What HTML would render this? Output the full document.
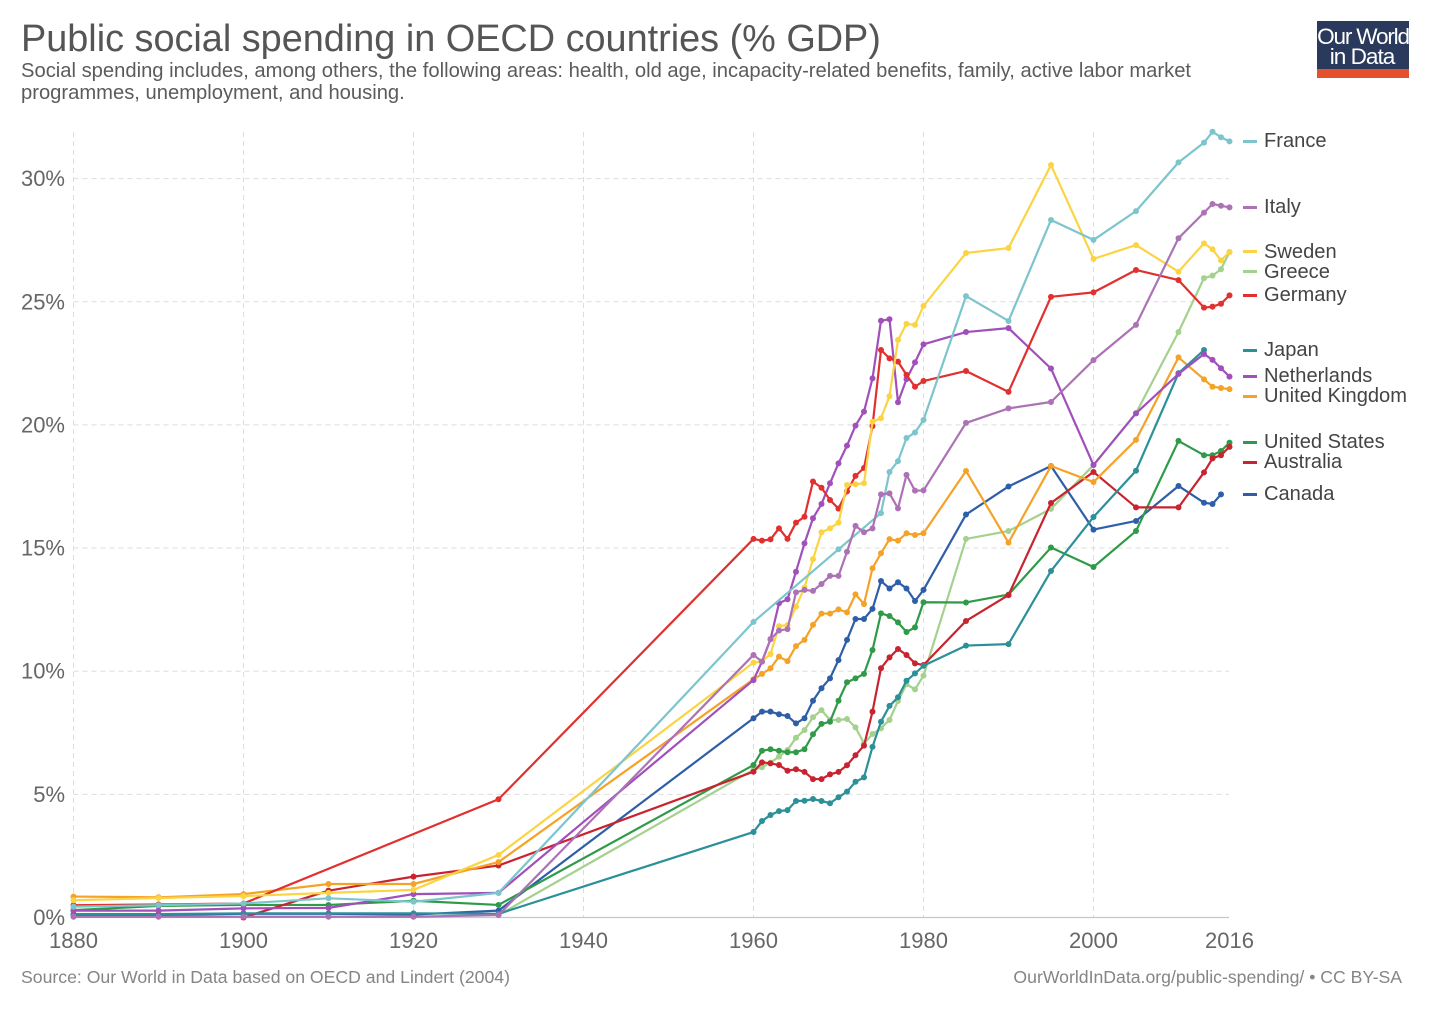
<!DOCTYPE html>
<html lang="en">
<head>
<meta charset="utf-8">
<title>Public social spending in OECD countries (% GDP)</title>
<style>
html,body{margin:0;padding:0;background:#fff;}
#chart-svg{display:block;font-family:"Liberation Sans",Arial,sans-serif;}
</style>
</head>
<body>
<svg id="chart-svg" xmlns="http://www.w3.org/2000/svg" width="1429" height="1009" viewBox="0 0 1429 1009">
  <rect x="0" y="0" width="1429" height="1009" fill="#ffffff"/>
  <text x="21" y="51" font-size="37.85" fill="#555555">Public social spending in OECD countries (% GDP)</text>
  <text x="21" y="77" font-size="20.2" fill="#5b5b5b">Social spending includes, among others, the following areas: health, old age, incapacity-related benefits, family, active labor market</text>
  <text x="21" y="99" font-size="20.2" fill="#5b5b5b">programmes, unemployment, and housing.</text>
  <g>
    <rect x="1317" y="21" width="92" height="48" fill="#2a3a5c"/>
    <rect x="1317" y="69" width="92" height="9" fill="#e4512c"/>
    <text x="1363" y="44" font-size="22.6" letter-spacing="-1.2" text-anchor="middle" fill="#ffffff">Our World</text>
    <text x="1362" y="64" font-size="22.6" letter-spacing="-1" text-anchor="middle" fill="#ffffff">in Data</text>
  </g>
  <g id="grid-layer"></g>
  <g id="series-layer"></g>
  <g id="tick-layer"></g>
  <g>
    <g><rect x="1243" y="140" width="14" height="3" fill="#7cc5cc"/><text x="1264" y="147" font-size="20.1" fill="#444">France</text></g>
    <g><rect x="1243" y="206" width="14" height="3" fill="#ac72b5"/><text x="1264" y="213" font-size="20.1" fill="#444">Italy</text></g>
    <g><rect x="1243" y="250" width="14" height="3" fill="#fbd443"/><text x="1264" y="258" font-size="20.1" fill="#444">Sweden</text></g>
    <g><rect x="1243" y="270" width="14" height="3" fill="#a4d18e"/><text x="1264" y="278" font-size="20.1" fill="#444">Greece</text></g>
    <g><rect x="1243" y="294" width="14" height="3" fill="#e0302f"/><text x="1264" y="301" font-size="20.1" fill="#444">Germany</text></g>
    <g><rect x="1243" y="349" width="14" height="3" fill="#2b9098"/><text x="1264" y="356" font-size="20.1" fill="#444">Japan</text></g>
    <g><rect x="1243" y="375" width="14" height="3" fill="#a04fbb"/><text x="1264" y="382" font-size="20.1" fill="#444">Netherlands</text></g>
    <g><rect x="1243" y="395" width="14" height="3" fill="#f5a228"/><text x="1264" y="402" font-size="20.1" fill="#444">United Kingdom</text></g>
    <g><rect x="1243" y="441" width="14" height="3" fill="#2f9a48"/><text x="1264" y="448" font-size="20.1" fill="#444">United States</text></g>
    <g><rect x="1243" y="461" width="14" height="3" fill="#c8232f"/><text x="1264" y="468" font-size="20.1" fill="#444">Australia</text></g>
    <g><rect x="1243" y="493" width="14" height="3" fill="#2f5ea8"/><text x="1264" y="500" font-size="20.1" fill="#444">Canada</text></g>
  </g>
  <text x="21" y="983" font-size="17.65" fill="#858585">Source: Our World in Data based on OECD and Lindert (2004)</text>
  <text x="1402" y="983" font-size="17.65" text-anchor="end" fill="#858585">OurWorldInData.org/public-spending/ • CC BY-SA</text>
</svg>
<script>
const years = [1880,1890,1900,1910,1920,1930,
  1960,1961,1962,1963,1964,1965,1966,1967,1968,1969,1970,1971,1972,1973,1974,1975,1976,1977,1978,1979,1980,
  1985,1990,1995,2000,2005,2010,2013,2014,2015,2016];
const xGridYears = [1880,1900,1920,1940,1960,1980,2000];
const xTickYears = [1880,1900,1920,1940,1960,1980,2000,2016];
const yTickValues = [0,5,10,15,20,25,30];

const greeceValues = [null,null,null,null,null,0.1,
  6.0,6.1,6.29,6.53,6.8,7.3,7.61,8.13,8.42,8.02,8.02,8.06,7.72,7.07,7.45,7.68,8.02,8.79,9.47,9.26,9.82,
  15.37,15.69,16.59,18.37,20.48,23.77,25.96,26.06,26.32,27.02];
const canadaValues = [0.1,0.1,0.15,0.15,0.12,0.28,
  8.09,8.36,8.36,8.25,8.18,7.88,8.09,8.8,9.31,9.71,10.45,11.27,12.12,12.12,12.53,13.66,13.36,13.61,13.36,12.85,13.3,
  16.36,17.5,18.33,15.75,16.1,17.52,16.84,16.79,17.18,null];
const unitedStatesValues = [0.3,0.47,0.51,0.51,0.68,0.51,
  6.19,6.77,6.83,6.77,6.71,6.71,6.83,7.44,7.86,7.95,8.8,9.55,9.71,9.89,10.86,12.35,12.24,11.98,11.59,11.78,12.8,
  12.79,13.11,15.02,14.23,15.69,19.35,18.77,18.77,18.94,19.28];
const australiaValues = [null,null,0,1.09,1.66,2.11,
  5.92,6.3,6.26,6.19,5.96,6.02,5.91,5.62,5.62,5.81,5.91,6.18,6.59,6.98,8.36,10.12,10.56,10.9,10.66,10.32,10.25,
  12.04,13.09,16.83,18.09,16.65,16.65,18.07,18.64,18.77,19.11];
const unitedKingdomValues = [0.85,0.82,0.95,1.36,1.36,2.25,
  9.67,9.89,10.12,10.59,10.41,11.02,11.27,11.88,12.34,12.34,12.51,12.39,13.12,12.73,14.18,14.79,15.36,15.3,15.6,15.53,15.6,
  18.13,15.22,18.33,17.68,19.39,22.74,21.85,21.55,21.5,21.45];
const japanValues = [0.14,0.14,0.17,0.17,0.17,0.15,
  3.47,3.92,4.16,4.32,4.36,4.73,4.74,4.81,4.73,4.64,4.88,5.11,5.51,5.69,6.93,7.95,8.59,8.94,9.61,9.91,10.22,
  11.04,11.1,14.07,16.26,18.14,22.1,23.04,null,null,null];
const netherlandsValues = [0.28,0.28,0.37,0.39,0.95,1.0,
  9.64,10.39,11.3,12.76,12.92,14.04,15.19,16.21,16.79,17.63,18.44,19.16,19.97,20.54,21.89,24.23,24.29,20.92,21.86,22.54,23.27,
  23.77,23.93,22.29,18.37,20.47,22.07,22.88,22.64,22.3,21.96];
const germanyValues = [0.5,0.53,0.57,null,null,4.8,
  15.37,15.3,15.35,15.8,15.37,16.03,16.27,17.7,17.45,16.95,16.6,17.3,17.93,18.25,19.95,23.04,22.7,22.57,22.03,21.55,21.78,
  22.19,21.34,25.2,25.38,26.29,25.88,24.76,24.8,24.92,25.26];
const swedenValues = [0.7,0.79,0.87,1.0,1.12,2.54,
  10.35,10.4,10.7,11.83,11.87,12.62,13.4,14.55,15.64,15.8,16.03,17.56,17.59,17.63,20.13,20.27,21.17,23.45,24.1,24.06,24.83,
  26.98,27.18,30.55,26.74,27.3,26.22,27.37,27.13,26.68,27.02];
const franceValues = [0.44,0.5,0.57,0.78,0.64,1.0,
  12.0,null,null,null,null,null,null,null,null,null,14.95,null,null,null,null,16.42,18.09,18.53,19.47,19.69,20.2,
  25.23,24.22,28.32,27.51,28.68,30.66,31.46,31.9,31.68,31.51];
const italyValues = [0.03,0.03,0.03,0.03,0.03,0.1,
  10.66,10.39,11.3,11.65,11.71,13.2,13.3,13.26,13.54,13.87,13.87,14.85,15.9,15.64,15.8,17.18,17.22,16.61,17.97,17.33,17.34,
  20.08,20.67,20.93,22.63,24.06,27.58,28.62,28.97,28.9,28.83];

const seriesNames = ['greece','canada','united-states','australia','united-kingdom','japan','netherlands','germany','sweden','france','italy'];
const seriesValues = [greeceValues,canadaValues,unitedStatesValues,australiaValues,unitedKingdomValues,japanValues,netherlandsValues,germanyValues,swedenValues,franceValues,italyValues];
const seriesColors = ['#a4d18e','#2f5ea8','#2f9a48','#c8232f','#f5a228','#2b9098','#a04fbb','#e0302f','#fbd443','#7cc5cc','#ac72b5'];

const SVG_NS = 'http://www.w3.org/2000/svg';
function xScale(year){ return 73.5 + (year - 1880) * 8.5; }
function yScale(value){ return 917.5 - value * 24.63; }
function make(tag, parent, props){
  const el = document.createElementNS(SVG_NS, tag);
  for (const k in props) el.setAttribute(k, props[k]);
  parent.appendChild(el);
  return el;
}

const gridLayer = document.getElementById('grid-layer');
const seriesLayer = document.getElementById('series-layer');
const tickLayer = document.getElementById('tick-layer');

yTickValues.forEach(function(v){
  if (v === 0) return;
  const line = make('line', gridLayer, {x1:73.5, x2:1229, y1:yScale(v), y2:yScale(v), stroke:'#dddddd', 'stroke-width':1, 'stroke-dasharray':'5,4'});
  
  
});
xGridYears.forEach(function(y){
  const line = make('line', gridLayer, {x1:xScale(y), x2:xScale(y), y1:132, y2:917, stroke:'#dddddd', 'stroke-width':1, 'stroke-dasharray':'5,4'});
  
  
});
const baseline = make('line', gridLayer, {x1:73.5, x2:1229, y1:917.5, y2:917.5, stroke:'#c8c8c8', 'stroke-width':1.2});



seriesNames.forEach(function(name, i){
  const values = seriesValues[i];
  const color = seriesColors[i];
  const group = make('g', seriesLayer, {});
  
  
  const pts = [];
  years.forEach(function(yr, j){
    if (values[j] !== null) pts.push([xScale(yr), yScale(values[j])]);
  });
  const d = pts.map(function(p, j){ return (j ? 'L' : 'M') + p[0].toFixed(2) + ' ' + p[1].toFixed(2); }).join(' ');
  const path = make('path', group, {d:d, fill:'none', stroke:color, 'stroke-width':2.2, 'stroke-linejoin':'round'});
  
  
  pts.forEach(function(p){
    const c = make('circle', group, {cx:p[0], cy:p[1], r:3, fill:color});
    
    
  });
});

yTickValues.forEach(function(v){
  const t = make('text', tickLayer, {x:65, y:yScale(v) + 7.5, 'font-size':22, 'text-anchor':'end', fill:'#666666'});
  
  
  t.textContent = v + '%';
});
xTickYears.forEach(function(y){
  const t = make('text', tickLayer, {x:xScale(y), y:948, 'font-size':22, 'text-anchor':'middle', fill:'#666666'});
  
  
  t.textContent = String(y);
});
</script>
</body>
</html>
